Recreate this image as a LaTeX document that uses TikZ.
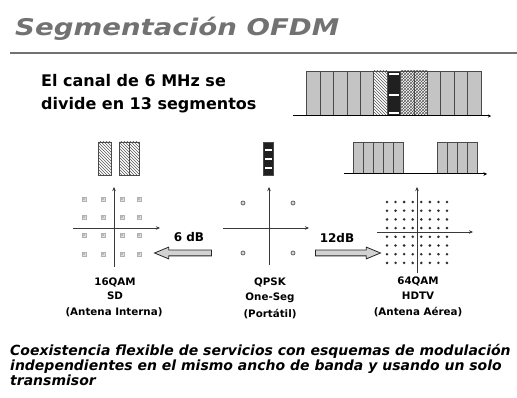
\documentclass[tikz,border=0pt]{standalone}
\usepackage{fontspec}
\setmainfont{DejaVu Sans}
\usetikzlibrary{patterns,shapes.arrows,arrows.meta}
\definecolor{segfill}{HTML}{C4C4C4}
\definecolor{segline}{HTML}{4A4A4A}
\definecolor{titlegray}{HTML}{727272}
\tikzset{
  titletext/.style={anchor=base west, inner sep=0pt, text=titlegray, font=\bfseries\itshape\fontsize{23}{27}\selectfont},
  introtext/.style={anchor=base west, inner sep=0pt, font=\bfseries\fontsize{16}{19}\selectfont},
  labeltext/.style={anchor=base, inner sep=0pt, font=\bfseries\fontsize{10.3}{12}\selectfont},
  dbtext/.style={anchor=base, inner sep=0pt, font=\bfseries\fontsize{12}{14}\selectfont},
  bottomtext/.style={anchor=base west, inner sep=0pt, font=\bfseries\itshape\fontsize{14}{16}\selectfont},
  segbox/.style={draw=segline, line width=0.7pt},
  hatchA/.style={pattern=north west lines, pattern color=gray!70!black},
  hatchB/.style={pattern=crosshatch, pattern color=gray!70!black},
  axisline/.style={draw=gray!45!black, line width=0.9pt, -{Stealth[length=4pt,width=3.5pt]}},
  bigarrow/.style={single arrow, draw=gray!30!black, fill=gray!35, line width=0.8pt,
     inner xsep=0pt, inner ysep=2.5pt, text height=0pt, text depth=0pt, text width=0pt,
     minimum width=0pt, single arrow head extend=3pt, single arrow tip angle=45},
  qampt/.style={draw=gray!60, fill=gray!25, line width=0.5pt},
}
\begin{document}
\begin{tikzpicture}[x=1pt,y=-1pt]
\useasboundingbox[fill=white] (0,0) rectangle (517,398);

% title
\node[titletext] (title) at (15,36) {\scalebox{1.2}[1]{Segmentación OFDM}};
\draw[titlegray, line width=2pt] (10,53) -- (517,53);

% intro
\node[introtext] (intro1) at (41,87) {El canal de 6 MHz se};
\node[introtext] (intro2) at (41,110) {divide en 13 segmentos};

% ---- top spectrum: 13 segments
\def\sx{306.7}\def\sw{13.41}
\fill[segfill] (306.7,71) rectangle (481,116);
% segment 6 (index 5)
\fill[white] ({\sx+5*\sw},71) rectangle ({\sx+6*\sw},116);
\fill[hatchA] ({\sx+5*\sw},71) rectangle ({\sx+6*\sw},116);
% segment 7 one-seg
\fill[gray!25!black] ({\sx+6*\sw},71) rectangle ({\sx+7*\sw},116);
\foreach \yy in {73,94,112}
  \fill[white] ({\sx+6*\sw+1.5},\yy) rectangle ({\sx+7*\sw-1.5},\yy+1.8);
% segments 8,9
\fill[white] ({\sx+7*\sw},71) rectangle ({\sx+9*\sw},116);
\fill[hatchB] ({\sx+7*\sw},71) rectangle ({\sx+9*\sw},116);
\foreach \i in {0,...,13}
  \draw[segline, line width=0.7pt] ({\sx+\i*\sw},71) -- ({\sx+\i*\sw},116);
\draw[segline, line width=0.7pt] (306.7,71) -- (481,71);
\draw[black, line width=1pt, -{Stealth[length=3pt,width=3pt]}] (293,116) -- (491,116);

% ---- SD bars
\fill[white] (98,142) rectangle (111,175);
\fill[hatchA] (98,142) rectangle (111,175);
\draw[segbox] (98,142) rectangle (111,175);
\fill[white] (119,142) rectangle (139,175);
\fill[hatchA] (119,142) rectangle (139,175);
\draw[segbox] (119,142) rectangle (129,175);
\draw[segbox] (129,142) rectangle (139,175);

% ---- one-seg bar
\fill[gray!25!black] (263,142) rectangle (273,175);
\foreach \yy in {149.5,158.5,167.5}
  \fill[white] (264.5,\yy) rectangle (271.5,\yy+1.8);
\draw[segbox] (263,142) rectangle (273,175);

% ---- HDTV spectrum
\fill[segfill] (353,142) rectangle (403,174);
\fill[segfill] (437,142) rectangle (477,174);
\foreach \i in {0,...,5} \draw[segline, line width=0.7pt] (353+\i*10,142) -- (353+\i*10,174);
\foreach \i in {0,...,4} \draw[segline, line width=0.7pt] (437+\i*10,142) -- (437+\i*10,174);
\draw[segline, line width=0.7pt] (353,142) -- (403,142);
\draw[segline, line width=0.7pt] (437,142) -- (477,142);
\draw[black, line width=1pt, -{Stealth[length=3.5pt,width=3.5pt]}] (344,174) -- (487,174);

% ---- 16QAM constellation
\draw[axisline] (73,228) -- (160,228);
\draw[axisline] (114,267) -- (114,187);
\foreach \x in {84,103,122,139}
  \foreach \y in {199,217,235,254} {
    \draw[qampt] (\x-2,\y-2) rectangle (\x+2,\y+2);
    \fill[gray!50!black] (\x,\y) circle (0.7);
  }
\node[labeltext] (l16a) at (115,286) {16QAM};
\node[labeltext] (l16b) at (115,300) {SD};
\node[labeltext] (l16c) at (114,316) {(Antena Interna)};

% ---- QPSK constellation
\draw[axisline] (223,228) -- (309,228);
\draw[axisline] (269,265) -- (269,187);
\foreach \x in {243,293}
  \foreach \y in {203,253}
    \draw[draw=gray!50!black, fill=gray!30, line width=0.6pt] (\x,\y) circle (2);
\node[labeltext] (lqa) at (270,286) {QPSK};
\node[labeltext] (lqb) at (270,301) {One-Seg};
\node[labeltext] (lqc) at (270,317) {(Portátil)};

% ---- 64QAM constellation
\foreach \i in {0,...,7}
  \foreach \j in {0,...,7}
    \fill[gray!35!black] (387+\i*8.57,202+\j*8.7) circle (1.4);
\draw[axisline] (377,232) -- (473,232);
\draw[axisline] (417,273) -- (417,187);
\node[labeltext] (l64a) at (418,285) {64QAM};
\node[labeltext] (l64b) at (418,300) {HDTV};
\node[labeltext] (l64c) at (418,316) {(Antena Aérea)};

% ---- hollow arrows
\node[bigarrow, shape border rotate=180, minimum height=57pt] (arr6) at (186.5,253) {};
\node[dbtext] (db6) at (189,242) {6 dB};
\node[bigarrow, minimum height=65pt] (arr12) at (344.5,253) {};
\node[dbtext] (db12) at (337,243) {12dB};

% ---- bottom text
\node[bottomtext] (b1) at (10,355) {Coexistencia flexible de servicios con esquemas de modulación};
\node[bottomtext] (b2) at (10,370) {independientes en el mismo ancho de banda y usando un solo};
\node[bottomtext] (b3) at (10,385) {transmisor};
\end{tikzpicture}
\end{document}
